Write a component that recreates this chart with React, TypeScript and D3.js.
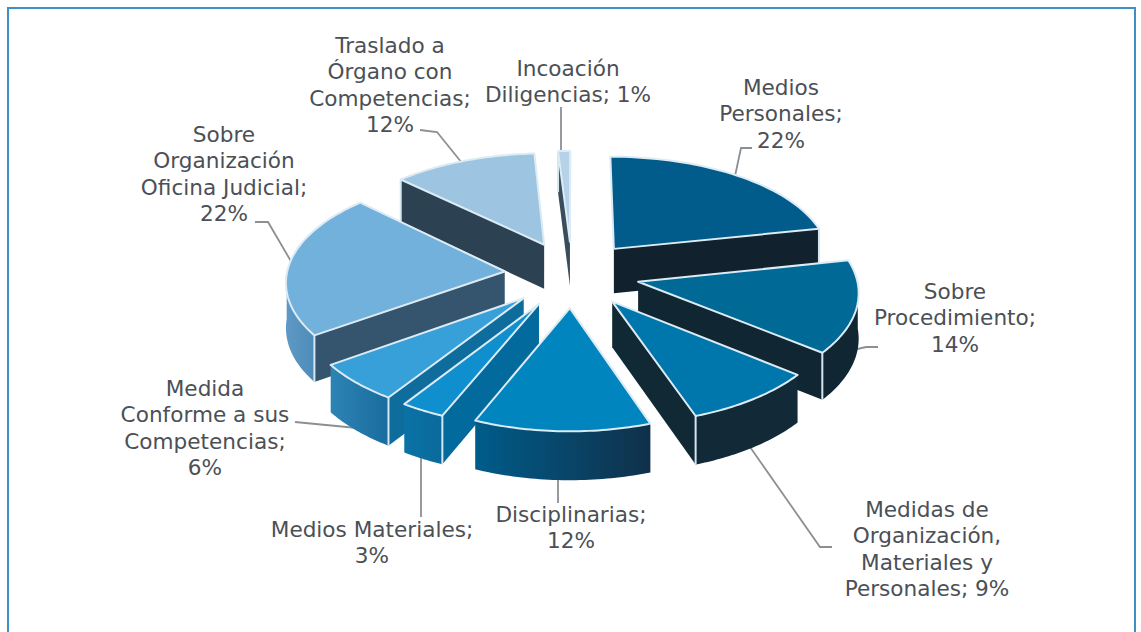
import React from "react";
import * as d3 from "d3";

const categories = [
  "Medios Personales",
  "Sobre Procedimiento",
  "Medidas de Organización, Materiales y Personales",
  "Disciplinarias",
  "Medios Materiales",
  "Medida Conforme a sus Competencias",
  "Sobre Organización Oficina Judicial",
  "Traslado a Órgano con Competencias",
  "Incoación Diligencias",
];
const values = [22, 14, 9, 12, 3, 6, 22, 12, 1];
const topColors = ["#015b8b", "#006996", "#0077ac", "#0085bf", "#0f8fcd", "#37a0d8", "#72b1dc", "#9dc5e2", "#b5d2e8"];
const sideColors = ["#11212d", "#112633", "#112835", "#0a3d5c", "#036a9e", "#0f6d9e", "#35556f", "#2c4252", "#3a4d5c"];
const wallFrom = ["#11212d", "#112633", "#122a38", "#005c8a", "#0a72a6", "#2c84b5", "#5f9ac6", "#2c4252", "#3a4d5c"];
const wallTo = ["#11212d", "#112633", "#122a38", "#10304a", "#0a6a9c", "#1a6c9e", "#4f8bb8", "#2c4252", "#3a4d5c"];

// label text lines, in the same order as the categories
const labelLines = [
  ["Medios", "Personales;", "22%"],
  ["Sobre", "Procedimiento;", "14%"],
  ["Medidas de", "Organización,", "Materiales y", "Personales; 9%"],
  ["Disciplinarias;", "12%"],
  ["Medios Materiales;", "3%"],
  ["Medida", "Conforme a sus", "Competencias;", "6%"],
  ["Sobre", "Organización", "Oficina Judicial;", "22%"],
  ["Traslado a", "Órgano con", "Competencias;", "12%"],
  ["Incoación", "Diligencias; 1%"],
];

// layout only: label anchors and leader routes, in pixels
const labelCenterX = [781, 955, 927, 571, 372, 205, 224, 390, 568];
const labelFirstY = [88, 292, 510, 515, 530, 389, 135, 46, 69];
const leaders: [number, number][][] = [
  [[752, 148], [741, 148], [735, 176]],
  [[878, 347], [866, 347], [853, 350]],
  [[832, 547], [820, 547], [750, 447]],
  [[558, 503], [558, 478]],
  [[421, 517], [421, 458]],
  [[295, 422], [357, 428]],
  [[255, 222], [268, 222], [292, 263]],
  [[420, 130], [437, 132], [462, 163]],
  [[561, 107], [561, 153]],
];

const W = 1141;
const H = 632;
const CX = 572;
const CY = 274;
const EXPLODE = 0.31;
const LINE_H = 26.3;

type P = [number, number];
const project = (u: number, v: number, drop = 0): P => [
  CX + u * (218 - 18 * v),
  CY - v * (107 - 10 * v) + drop * (45 - 3 * v),
];

const toPath = d3.line<P>().x((d) => d[0]).y((d) => d[1]);

export default function App() {
  const pie = d3.pie<number>().sort(null).startAngle(0).endAngle(2 * Math.PI);
  const arcs = pie(values);

  const slices = arcs.map((a, i) => {
    const mid = (a.startAngle + a.endAngle) / 2;
    const ou = EXPLODE * Math.sin(mid);
    const ov = EXPLODE * Math.cos(mid);
    const at = (t: number, r = 1, drop = 0) =>
      project(ou + r * Math.sin(t), ov + r * Math.cos(t), drop);
    const steps = d3.range(0, 41).map((k) => a.startAngle + ((a.endAngle - a.startAngle) * k) / 40);
    const apex = at(0, 0);
    const apexB = at(0, 0, 1);
    const top = [apex, ...steps.map((t) => at(t))];
    const walls: { pts: P[]; fill: string }[] = [];
    const edges: P[][] = [];
    if (Math.sin(a.startAngle) < 0) {
      walls.push({ pts: [apex, at(a.startAngle), at(a.startAngle, 1, 1), apexB], fill: sideColors[i] });
      edges.push([at(a.startAngle), at(a.startAngle, 1, 1)]);
    }
    if (Math.sin(a.endAngle) > 0) {
      walls.push({ pts: [apex, at(a.endAngle), at(a.endAngle, 1, 1), apexB], fill: sideColors[i] });
      edges.push([at(a.endAngle), at(a.endAngle, 1, 1)]);
    }
    const front = steps.filter((t) => Math.cos(t) <= 0);
    if (front.length > 1) {
      walls.push({
        pts: [...front.map((t) => at(t)), ...front.slice().reverse().map((t) => at(t, 1, 1))],
        fill: `url(#wall${i})`,
      });
    }
    const xs = (front.length > 1 ? front : steps).map((t) => at(t)[0]);
    return { i, order: ov, top, walls, edges, x0: d3.min(xs)!, x1: d3.max(xs)! };
  });

  const painted = slices.slice().sort((a, b) => d3.descending(a.order, b.order));

  return (
    <svg
      width={W}
      height={H}
      viewBox={`0 0 ${W} ${H}`}
      style={{ position: "absolute", left: 0, top: 0, display: "block" }}
    >
      <defs>
        {slices.map((s) => (
          <linearGradient
            key={s.i}
            id={`wall${s.i}`}
            gradientUnits="userSpaceOnUse"
            x1={s.x0}
            x2={s.x1}
            y1={0}
            y2={0}
          >
            <stop offset="0" stopColor={wallFrom[s.i]} />
            <stop offset="1" stopColor={wallTo[s.i]} />
          </linearGradient>
        ))}
      </defs>
      <rect x={0} y={0} width={W} height={H} fill="#ffffff" />
      <path
        d={`M8,${H}V8H${W - 6}V${H}`}
        fill="none"
        stroke="#3d8fc4"
        strokeWidth={2}
      />
      {leaders.map((l, i) => (
        <path key={i} d={toPath(l as P[])!} fill="none" stroke="#8b9094" strokeWidth={1.8} />
      ))}
      {painted.map((s) => (
        <g key={s.i} aria-label={categories[s.i]}>
          {s.walls.map((w, k) => (
            <path key={k} d={toPath(w.pts)! + "Z"} fill={w.fill} />
          ))}
          {s.edges.map((e, k) => (
            <path key={k} d={toPath(e)!} stroke="#d5e6f1" strokeWidth={2} fill="none" />
          ))}
          <path
            d={toPath(s.top)! + "Z"}
            fill={topColors[s.i]}
            stroke="#dcebf4"
            strokeWidth={2}
            strokeLinejoin="round"
          />
        </g>
      ))}
      {labelLines.map((lines, i) => (
        <text
          key={i}
          textAnchor="middle"
          fontFamily="'DejaVu Sans', sans-serif"
          fontSize={21.6}
          fill="#4b5056"
        >
          {lines.map((t, k) => (
            <tspan key={k} x={labelCenterX[i]} y={labelFirstY[i] + k * LINE_H + 7}>
              {t}
            </tspan>
          ))}
        </text>
      ))}
    </svg>
  );
}
